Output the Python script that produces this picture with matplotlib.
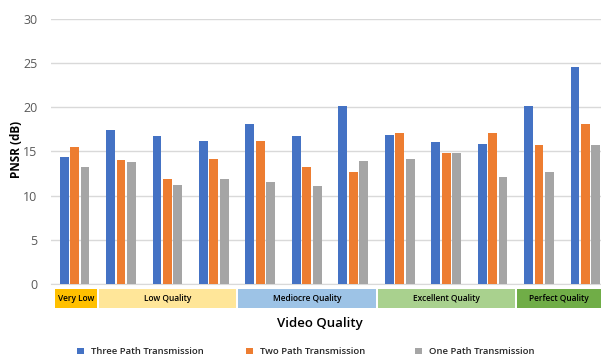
import matplotlib.pyplot as plt
import matplotlib.transforms as mtransforms
from matplotlib.patches import Rectangle
import numpy as np

# PSNR per test clip, one value per transmission mode
three_path = [14.4, 17.4, 16.8, 16.2, 18.1, 16.8, 20.1, 16.9, 16.1, 15.9, 20.1, 24.6]
two_path = [15.5, 14.0, 11.9, 14.2, 16.2, 13.2, 12.7, 17.1, 14.8, 17.1, 15.7, 18.1]
one_path = [13.2, 13.8, 11.2, 11.9, 11.6, 11.1, 13.9, 14.2, 14.8, 12.1, 12.7, 15.7]

series_names = ["Three Path Transmission", "Two Path Transmission", "One Path Transmission"]
series_colors = ["#4472C4", "#ED7D31", "#A5A5A5"]

# quality bands below the axis: label, first clip, last clip, colour
band_labels = ["Very Low", "Low Quality", "Mediocre Quality", "Excellent Quality", "Perfect Quality"]
band_first = [0, 1, 4, 7, 10]
band_last = [0, 3, 6, 9, 11]
band_colors = ["#FFC000", "#FFE699", "#9DC3E6", "#A9D18E", "#70AD47"]

plt.rcParams["font.family"] = ["Open Sans", "DejaVu Sans"]

fig = plt.figure(figsize=(6.01, 3.57), dpi=100)
ax = fig.add_axes([0.0854, 0.2045, 0.9146, 0.7423])

x = np.arange(len(three_path))
width = 0.19
step = 0.225
for k, (vals, col) in enumerate(zip([three_path, two_path, one_path], series_colors)):
    ax.bar(x + (k - 1) * step, vals, width=width, color=col, zorder=3)

ax.set_ylim(0, 30)
ax.set_xlim(-0.5, 11.335)
ax.set_yticks(range(0, 31, 5))
ax.set_xticks([])
ax.yaxis.grid(True, color="#D9D9D9", linewidth=1.0, zorder=0)
ax.tick_params(axis="y", length=0, pad=10, labelsize=9, labelcolor="#595959")
for s in ["top", "right", "left"]:
    ax.spines[s].set_visible(False)
ax.spines["bottom"].set_color("#D9D9D9")

ax.set_ylabel("PNSR (dB)", fontsize=8.5, fontweight="bold")
ax.yaxis.set_label_coords(-0.052, 0.506)

# coloured category strip under the bars
trans = mtransforms.blended_transform_factory(ax.transData, ax.transAxes)
for lab, a, b, col in zip(band_labels, band_first, band_last, band_colors):
    left = a - 0.5 + (0.08 if a == 0 else 0.03)
    right = b + 0.5 - 0.02
    ax.add_patch(Rectangle((left, -0.091), right - left, 0.072, transform=trans,
                           facecolor=col, edgecolor="none", clip_on=False))
    ax.text((left + min(right, 11.335)) / 2, -0.055, lab, transform=trans,
            ha="center", va="center", fontsize=6, fontweight="semibold", color="#000000")

fig.text(0.532, 0.093, "Video Quality", ha="center", va="center",
         fontsize=9.5, fontweight="semibold", color="#000000")

# legend row, drawn by hand so each entry sits at a fixed spacing
leg_x = [80, 249, 418]
leg_y = 351
for name, col, px in zip(series_names, series_colors, leg_x):
    fig.patches.append(Rectangle(((px - 3) / 601, (357 - leg_y - 3) / 357), 6.5 / 601, 6.5 / 357,
                                 transform=fig.transFigure, facecolor=col, edgecolor="none"))
    fig.text((px + 11) / 601, (357 - leg_y) / 357, name, ha="left", va="center",
             fontsize=6.8, fontweight="semibold", color="#262626")

fig.savefig("out.png", dpi=100)
